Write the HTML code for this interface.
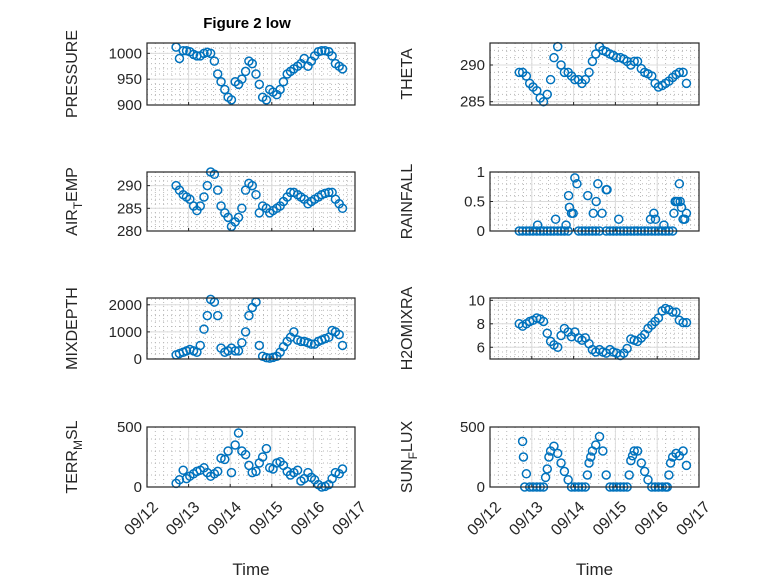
<!DOCTYPE html>
<html><head><meta charset="utf-8">
<style>
html,body{margin:0;padding:0;background:#fff;}
svg{display:block;font-family:"Liberation Sans",sans-serif;}
</style></head>
<body>
<svg id="fig" width="778" height="583" viewBox="0 0 778 583" xmlns="http://www.w3.org/2000/svg">
<rect x="0" y="0" width="778" height="583" fill="#fff"/>
<text x="247" y="28" text-anchor="middle" font-size="15" font-weight="bold" fill="#000">Figure 2 low</text>
</svg>
<script>
const times=[12.70,12.78,12.87,12.95,13.03,13.12,13.20,13.28,13.37,13.45,13.53,13.62,13.70,13.78,13.87,13.95,14.03,14.12,14.20,14.28,14.37,14.45,14.53,14.62,14.70,14.78,14.87,14.95,15.03,15.12,15.20,15.28,15.37,15.45,15.53,15.62,15.70,15.78,15.87,15.95,16.03,16.12,16.20,16.28,16.37,16.45,16.53,16.62,16.70];
const pressure=[1012,990,1005,1005,1003,998,995,995,1000,1002,1000,985,960,945,930,915,910,945,940,950,965,985,980,960,940,915,910,930,925,920,930,945,960,965,970,975,980,990,975,985,995,1003,1005,1005,1003,995,980,975,970];
const theta=[289,289,288.5,287.5,287,286.5,285.5,285,286,288,291,292.5,290,289,289,288.5,288,288,287.5,288,289,290.5,291.5,292.5,292,291.8,291.5,291.3,291,291,290.8,290.5,290,290.5,290.5,289.5,289,288.8,288.5,287.5,287,287.2,287.5,287.8,288.3,288.7,289,289,287.5];
const airTemp=[290,289,288,287.5,287,285.5,284.5,285.5,287.5,290,293,292.5,289,285.5,284,283,281,282,283,285,289,290.5,290,288,284,285.5,285,284,284.5,285,285.5,286.5,287.5,288.5,288.5,288,287.5,287,286,286.5,287,287.5,288,288.3,288.5,288.5,287,286,285];
const rainfall=[0,0,0,0,0,0,0,0,0,0,0,0,0,0,0,0.3,0.9,0,0,0,0,0,0,0,null,0,0,0,0,0,0,0,0,0,0,0,0,0,0,0,0,0,0,0,0,0.5,0.8,0.2,0.3];
const rainExtraTimes=[13.14,13.57,13.82,13.88,13.90,13.99,14.08,14.34,14.47,14.54,14.58,14.68,14.78,14.80,15.08,15.84,15.92,15.96,16.16,16.40,16.43,16.49,16.55,16.58,16.66];
const rainExtraValues=[0.1,0.2,0.1,0.6,0.4,0.3,0.8,0.6,0.3,0.5,0.8,0.3,0.7,0.7,0.2,0.2,0.3,0.2,0.1,0.3,0.5,0.5,0.5,0.4,0.2];
const mixDepth=[150,200,250,300,350,300,250,500,1100,1600,2200,2100,1600,400,250,300,400,300,300,600,1000,1600,1900,2100,500,100,50,30,60,100,250,450,650,800,1000,700,650,650,600,550,550,650,700,750,800,1050,1000,900,500];
const h2oMix=[8,7.8,8.0,8.2,8.3,8.5,8.4,8.2,7.2,6.5,6.2,6.0,7.0,7.6,7.3,6.9,7.3,6.8,6.6,6.8,6.3,5.8,5.6,5.8,5.6,5.5,5.8,5.6,5.5,5.3,5.5,5.9,6.7,6.6,6.5,6.8,7.1,7.6,7.9,8.2,8.5,9.1,9.3,9.2,9.0,9.0,8.3,8.1,8.1];
const terrMsl=[30,60,140,70,90,110,130,140,160,120,90,110,130,240,230,300,120,350,450,300,270,180,120,130,200,250,320,160,150,200,210,180,130,100,120,140,50,70,120,80,60,20,0,5,20,70,120,110,150];
const sunFlux=[null,380,110,0,0,0,0,0,150,300,340,280,200,130,60,0,0,0,0,0,200,300,350,420,300,100,0,0,0,0,0,0,220,300,300,200,130,60,0,0,0,0,0,100,250,280,260,300,180];
const sunExtraTimes=[12.80,12.83,13.33,13.41,14.33,14.41,15.33,15.41,16.24,16.32];
const sunExtraValues=[250,0,80,250,100,250,100,260,0,200];
const xTickDays=[12,13,14,15,16,17];
const xTickLabels=["09/12","09/13","09/14","09/15","09/16","09/17"];

const NS='http://www.w3.org/2000/svg';
const svg=document.getElementById('fig');
function mk(tag,attrs,parent){const e=document.createElementNS(NS,tag);for(const k in attrs)e.setAttribute(k,attrs[k]);(parent||svg).appendChild(e);return e;}

const panels=[
 {key:'pressure',label:'PRESSURE',x0:147,x1:355,y0:43,y1:105,ymin:900,ymax:1020,ticks:[900,950,1000],tl:['900','950','1000'],vals:pressure,lx:77},
 {key:'theta',label:'THETA',x0:490,x1:699,y0:43,y1:105,ymin:284.55,ymax:293,ticks:[285,290],tl:['285','290'],vals:theta,lx:412},
 {key:'air-temp',label:'AIR_TEMP',x0:147,x1:355,y0:172,y1:231,ymin:280,ymax:293,ticks:[280,285,290],tl:['280','285','290'],vals:airTemp,lx:77},
 {key:'rainfall',label:'RAINFALL',x0:490,x1:699,y0:172,y1:231,ymin:0,ymax:1,ticks:[0,0.5,1],tl:['0','0.5','1'],vals:rainfall,ext:[rainExtraTimes,rainExtraValues],lx:412},
 {key:'mixdepth',label:'MIXDEPTH',x0:147,x1:355,y0:298,y1:359,ymin:0,ymax:2250,ticks:[0,1000,2000],tl:['0','1000','2000'],vals:mixDepth,lx:77},
 {key:'h2omixra',label:'H2OMIXRA',x0:490,x1:699,y0:298,y1:359,ymin:5,ymax:10.2,ticks:[6,8,10],tl:['6','8','10'],vals:h2oMix,lx:412},
 {key:'terr-msl',label:'TERR_MSL',x0:147,x1:355,y0:427,y1:487,ymin:0,ymax:500,ticks:[0,500],tl:['0','500'],vals:terrMsl,lx:77,bottom:true},
 {key:'sun-flux',label:'SUN_FLUX',x0:490,x1:699,y0:427,y1:487,ymin:0,ymax:500,ticks:[0,500],tl:['0','500'],vals:sunFlux,ext:[sunExtraTimes,sunExtraValues],lx:412,bottom:true}
];

panels.forEach(p=>{
 const g=mk('g',{});
 
 
 const xs=t=>p.x0+(t-12)/5*(p.x1-p.x0);
 const ys=v=>p.y1-(v-p.ymin)/(p.ymax-p.ymin)*(p.y1-p.y0);
 const bg=mk('rect',{x:p.x0,y:p.y0,width:p.x1-p.x0,height:p.y1-p.y0,fill:'#fff'},g);
 
 
 for(let d=12;d<17;d+=0.2){const x=xs(d);
  const l=mk('line',{x1:x,x2:x,y1:p.y0,y2:p.y1,stroke:'#b8b8b8','stroke-width':1,'stroke-dasharray':'1 3'},g);
  
  }
 const step=(p.ticks[1]-p.ticks[0])/5;
 for(let v=p.ticks[0]-5*step;v<=p.ymax;v+=step){if(v<p.ymin)continue;const y=ys(v);
  const l=mk('line',{x1:p.x0,x2:p.x1,y1:y,y2:y,stroke:'#b8b8b8','stroke-width':1,'stroke-dasharray':'1 3'},g);
  
  }
 xTickDays.forEach(d=>{const x=xs(d);
  const l=mk('line',{x1:x,x2:x,y1:p.y0,y2:p.y1,stroke:'#dcdcdc','stroke-width':1},g);
  
  });
 p.ticks.forEach((v,i)=>{const y=ys(v);
  const l=mk('line',{x1:p.x0,x2:p.x1,y1:y,y2:y,stroke:'#dcdcdc','stroke-width':1},g);
  
  
  const tk=mk('line',{x1:p.x0,x2:p.x0+3,y1:y,y2:y,stroke:'#262626','stroke-width':1},g);
  
  
  const t=mk('text',{x:p.x0-5,y:y+5,'text-anchor':'end','font-size':15,fill:'#262626'},g);
  t.textContent=p.tl[i];
  
  });
 xTickDays.forEach((d,i)=>{const x=xs(d);
  const tk=mk('line',{x1:x,x2:x,y1:p.y1,y2:p.y1-3,stroke:'#262626','stroke-width':1},g);
  
  
  if(p.bottom){
   const ax=x+12, ay=p.y1+21;
   const t=mk('text',{x:ax,y:ay,'text-anchor':'end','font-size':16,fill:'#262626',transform:'rotate(-45 '+ax+' '+ay+')'},g);
   t.textContent=xTickLabels[i];
   
   }
 });
 const pts=[];
 p.vals.forEach((v,i)=>{if(v!==null)pts.push([times[i],v]);});
 if(p.ext)p.ext[0].forEach((t,i)=>pts.push([t,p.ext[1][i]]));
 pts.forEach(q=>{
  const c=mk('circle',{cx:xs(q[0]),cy:ys(q[1]),r:4,fill:'none',stroke:'#0072BD','stroke-width':1.5},g);
  
  });
 const box=mk('rect',{x:p.x0,y:p.y0,width:p.x1-p.x0,height:p.y1-p.y0,fill:'none',stroke:'#262626','stroke-width':1.2},g);
 
 
 const cy=(p.y0+p.y1)/2;
 const lab=mk('text',{x:p.lx,y:cy,'text-anchor':'middle','font-size':16,fill:'#262626',transform:'rotate(-90 '+p.lx+' '+cy+')'},g);
 
 
 const parts=p.label.split('_');
 if(parts.length===1){lab.textContent=p.label;}
 else{
  const a=mk('tspan',{},lab);a.textContent=parts[0];
  const s=mk('tspan',{dy:5,'font-size':12},lab);s.textContent=parts[1][0];
  const b=mk('tspan',{dy:-5},lab);b.textContent=parts[1].slice(1);
 }
 if(p.bottom){
  const tt=mk('text',{x:(p.x0+p.x1)/2,y:575,'text-anchor':'middle','font-size':17,fill:'#262626'},g);
  tt.textContent='Time';
  
  }
});
</script>
</body></html>
